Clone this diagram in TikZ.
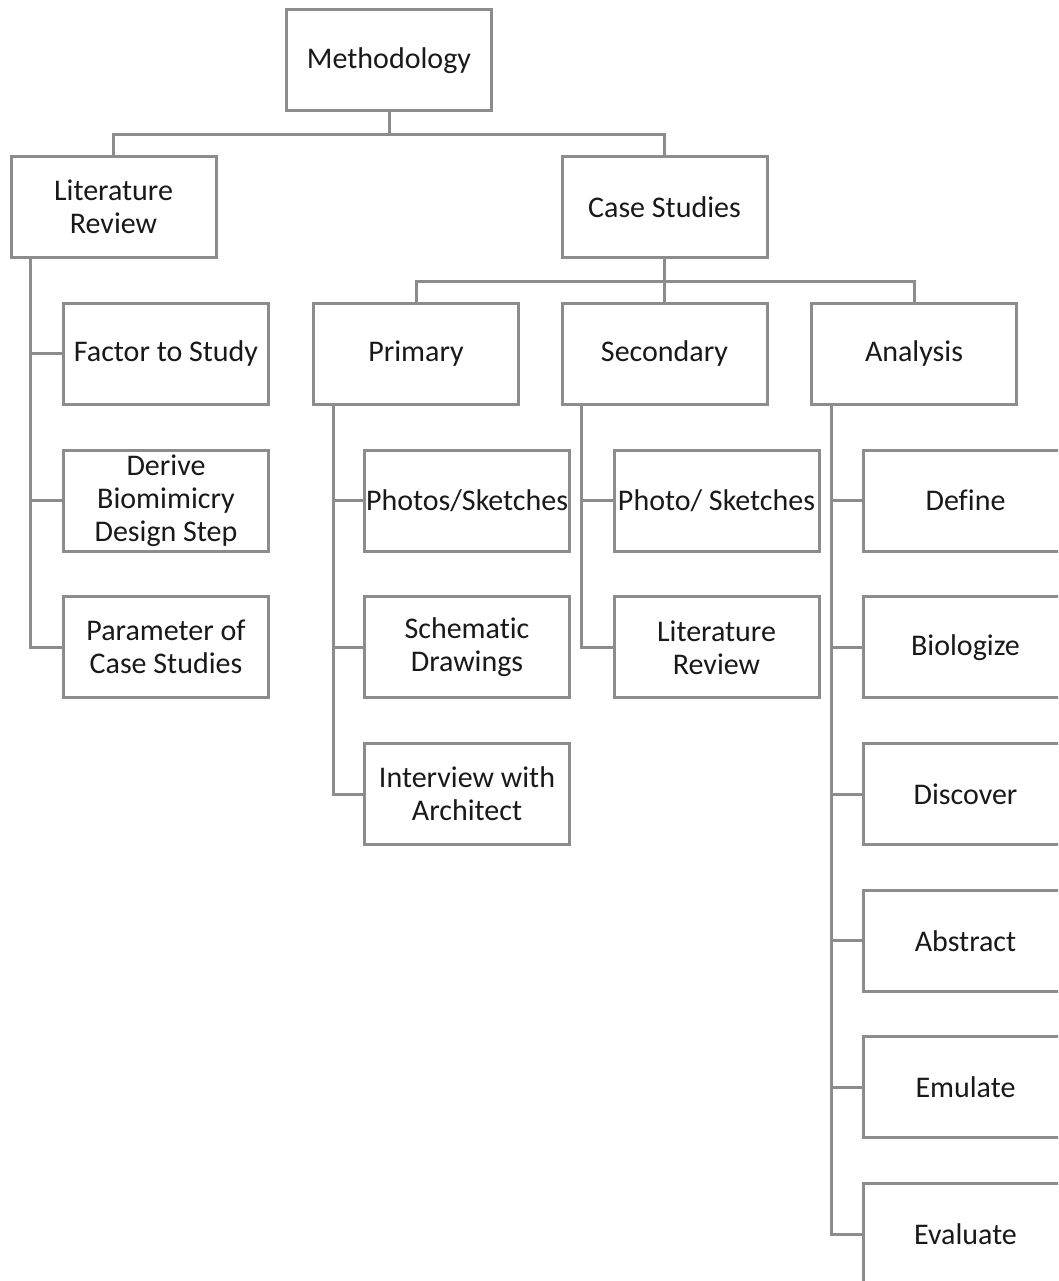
\documentclass[tikz,border=0pt]{standalone}
\usepackage{fontspec}
\setmainfont{Carlito}[Ligatures=NoCommon]
\usepackage{tikz}
\usetikzlibrary{calc}
\definecolor{linegray}{HTML}{8C8C8C}
\tikzset{
  box/.style={draw=linegray, line width=3pt, fill=white, minimum width=205pt,
    minimum height=101pt, inner sep=0pt, align=center, text=black!90,
    font=\fontsize{30}{33}\selectfont},
  conn/.style={draw=linegray, line width=3pt}
}
\begin{document}
\begin{tikzpicture}[x=1pt,y=-1pt]
                      \clip (0,0) rectangle (1058,1281);
                      \fill[white] (0,0) rectangle (1058,1281);
                      % top levels
                      \node[box](meth)at(389,60.5){Methodology};
                      \node[box](litrev)at(113.5,207.2){Literature\\Review};
                      \node[box](cases)at(664.5,207.2){Case Studies};
                      \node[box](primary)at(416,353.9){Primary};
                      \node[box](secondary)at(664.5,353.9){Secondary};
                      \node[box](analysis)at(914,353.9){Analysis};
                      % literature review column
                      \node[box](factor)at(166,353.9){Factor to Study};
                      \node[box](derive)at(166,500.6){Derive\\Biomimicry\\Design Step};
                      \node[box](param)at(166,647.3){Parameter of\\Case Studies};
                      % primary column
                      \node[box](photos)at(467,500.6){Photos/Sketches};
                      \node[box](schem)at(467,647.3){Schematic\\Drawings};
                      \node[box](interview)at(467,794){Interview with\\Architect};
                      % secondary column
                      \node[box](photo)at(716.5,500.6){Photo/ Sketches};
                      \node[box](litrevb)at(716.5,647.3){Literature\\Review};
                      % analysis column
                      \foreach \lab [count=\i from 3] in {Define,Biologize,Discover,Abstract,Emulate,Evaluate}
                        \node[box](an\i)at(965.5,60.5+146.7*\i){\lab};
                      % connectors
                      \draw[conn](meth.south)--++(0,22)-|(litrev.north);
                      \draw[conn](meth.south)--++(0,22)-|(cases.north);
                      \foreach \n in {primary,secondary,analysis}
                        \draw[conn](cases.south)--++(0,22)-|(\n.north);
                      \coordinate(lrtrunk)at([xshift=21]litrev.south west);
                      \coordinate(prtrunk)at([xshift=21]primary.south west);
                      \coordinate(setrunk)at([xshift=21]secondary.south west);
                      \coordinate(antrunk)at([xshift=21]analysis.south west);
                      \foreach \n in {factor,derive,param} \draw[conn](lrtrunk)|-(\n.west);
                      \foreach \n in {photos,schem,interview} \draw[conn](prtrunk)|-(\n.west);
                      \foreach \n in {photo,litrevb} \draw[conn](setrunk)|-(\n.west);
                      \foreach \i in {3,...,8} \draw[conn](antrunk)|-(an\i.west);
                  \end{tikzpicture}
\end{document}
